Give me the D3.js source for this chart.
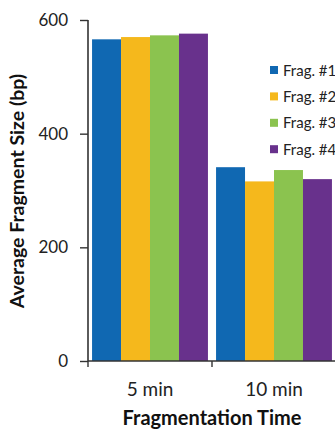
<!DOCTYPE html>
<html><head><meta charset="utf-8">
<script src="https://cdn.jsdelivr.net/npm/d3@7"></script>
<style>body{margin:0;background:#fff}svg{display:block}text{font-family:Lato,"Open Sans",sans-serif}</style>
</head><body><svg id="c" width="335" height="434"></svg>
<script>
const categories = ["5 min", "10 min"];
const seriesNames = ["Frag. #1", "Frag. #2", "Frag. #3", "Frag. #4"];
const frag1 = [566, 341];
const frag2 = [570, 316];
const frag3 = [573, 336];
const frag4 = [576, 320];
const yTicks = [0, 200, 400, 600];
const colors = ["#1068b2", "#f5b81c", "#8bc34f", "#68318c"];
const series = [frag1, frag2, frag3, frag4];

const svg = d3.select("#c");
const x0 = 88, x1 = 336, yTop = 20, yBot = 361;
const x = d3.scaleBand().domain(categories).range([x0, x1]).paddingInner(0).paddingOuter(0);
const xs = d3.scaleBand().domain(seriesNames).range([0, x.bandwidth()]).paddingOuter(0.14).paddingInner(0);
const y = d3.scaleLinear().domain([0, 600]).range([yBot, yTop]);

categories.forEach((c, ci) => {
  svg.append("g").selectAll("rect").data(seriesNames).join("rect")
    .attr("x", s => x(c) + xs(s))
    .attr("width", xs.bandwidth())
    .attr("y", (s, si) => y(series[si][ci]))
    .attr("height", (s, si) => yBot - y(series[si][ci]))
    .attr("fill", (s, si) => colors[si]);
});

const ya = svg.append("g").attr("transform", `translate(${x0},0)`)
  .call(d3.axisLeft(y).tickValues(yTicks).tickSize(8).tickPadding(12).tickFormat(d3.format("d")));
ya.select(".domain").attr("stroke", "#333").attr("stroke-width", 1.6).attr("d", `M0,${yTop}V${yBot}`);
ya.selectAll(".tick line").attr("stroke", "#333").attr("stroke-width", 1.4);
ya.selectAll("text").attr("font-size", 17).attr("fill", "#222").style("font-family", "Lato,sans-serif");

const xa = svg.append("g").attr("transform", `translate(0,${yBot})`)
  .call(d3.axisBottom(x).tickSize(0).tickPadding(22));
xa.select(".domain").attr("stroke", "#333").attr("stroke-width", 1.6).attr("d", `M${x0},0H335`);
xa.selectAll("text").attr("font-size", 19).attr("fill", "#222").style("font-family", "Lato,sans-serif");
svg.append("g").selectAll("line").data(categories).join("line")
  .attr("x1", c => x(c)).attr("x2", c => x(c)).attr("y1", yBot).attr("y2", yBot + 6)
  .attr("stroke", "#333").attr("stroke-width", 1.4);

svg.append("text").attr("x", 212).attr("y", 425).attr("text-anchor", "middle")
  .attr("font-size", 20).attr("font-weight", "bold").attr("fill", "#111").text("Fragmentation Time");
svg.append("text").attr("transform", "translate(24,191) rotate(-90)").attr("text-anchor", "middle")
  .attr("font-size", 19.5).attr("font-weight", "bold").attr("fill", "#111").text("Average Fragment Size (bp)");

const lg = svg.append("g").selectAll("g").data(seriesNames).join("g")
  .attr("transform", (d, i) => `translate(270,${70 + i * 26.4})`);
lg.append("rect").attr("x", 0).attr("y", -4).attr("width", 8).attr("height", 8).attr("fill", (d, i) => colors[i]);
lg.append("text").attr("x", 13).attr("y", 5.5).attr("font-size", 15).attr("fill", "#222").text(d => d);
</script></body></html>
